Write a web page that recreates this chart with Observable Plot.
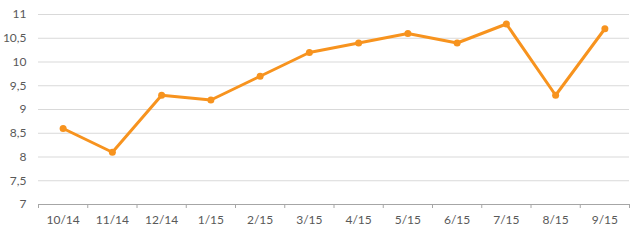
<!DOCTYPE html>
<html>
<head>
<meta charset="utf-8">
<script src="https://cdn.jsdelivr.net/npm/d3@7"></script>
<script src="https://cdn.jsdelivr.net/npm/@observablehq/plot@0.6"></script>
<style>
  html, body { margin: 0; padding: 0; background: #fff; }
  svg { display: block; }
</style>
</head>
<body>
<div id="chart"></div>
<script>
const categories = ["10/14","11/14","12/14","1/15","2/15","3/15","4/15","5/15","6/15","7/15","8/15","9/15"];
const values = [8.6, 8.1, 9.3, 9.2, 9.7, 10.2, 10.4, 10.6, 10.4, 10.8, 9.3, 10.7];
const yTicks = [7, 7.5, 8, 8.5, 9, 9.5, 10, 10.5, 11];

const data = categories.map((c, i) => ({i, c, v: values[i]}));
const boundaries = d3.range(categories.length + 1).map(i => i - 0.5);
const fmt = v => String(v).replace(".", ",");

const color = "#f7931e";
const chart = Plot.plot({
  width: 640,
  height: 245,
  marginLeft: 38,
  marginRight: 11,
  marginTop: 14,
  marginBottom: 41,
  style: {fontFamily: "Lato, 'Open Sans', sans-serif", fontSize: "12px", color: "#595959", background: "#fff"},
  x: {type: "linear", domain: [-0.5, categories.length - 0.5]},
  y: {domain: [7, 11]},
  marks: [
    Plot.ruleY(yTicks.filter(t => t > 7), {stroke: "#d9d9d9", strokeWidth: 1}),
    Plot.ruleY([7], {stroke: "#a6a6a6", strokeWidth: 1}),
    Plot.axisY(yTicks, {tickSize: 0, tickPadding: 12, tickFormat: fmt, label: null, fill: "#595959"}),
    Plot.axisX(d3.range(categories.length), {tickSize: 0, tickPadding: 11, tickFormat: i => categories[i], label: null, fill: "#595959"}),
    Plot.axisX(boundaries, {tickSize: 4, tickFormat: null, text: null, stroke: "#a6a6a6", label: null}),
    Plot.line(data, {x: "i", y: "v", stroke: color, strokeWidth: 3, strokeLinejoin: "round", curve: "linear"}),
    Plot.dot(data, {x: "i", y: "v", fill: color, r: 3.5})
  ]
});
document.getElementById("chart").appendChild(chart);
</script>
</body>
</html>
